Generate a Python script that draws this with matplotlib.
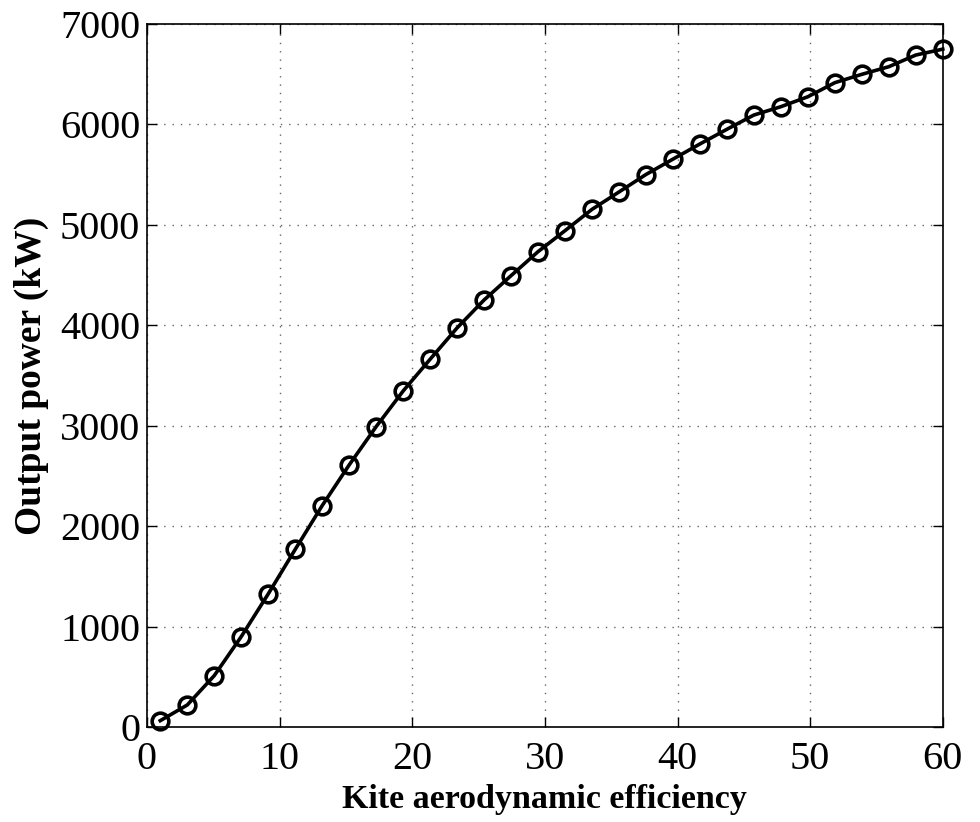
import numpy as np
import matplotlib
matplotlib.use("Agg")
import matplotlib.pyplot as plt

plt.rcParams['font.family'] = ['Liberation Serif', 'DejaVu Serif']

efficiency = np.linspace(1, 60, 30)
power_kw = [66, 222, 514, 902, 1327, 1770, 2206, 2611, 2992, 3347,
            3663, 3975, 4253, 4495, 4734, 4943, 5155, 5328, 5502, 5655,
            5806, 5952, 6094, 6177, 6276, 6416, 6499, 6575, 6691, 6750]
xticks = [0, 10, 20, 30, 40, 50, 60]
yticks = [0, 1000, 2000, 3000, 4000, 5000, 6000, 7000]

fig = plt.figure(figsize=(9.8, 8.22), dpi=100)
ax = fig.add_axes([0.15, 0.1152, 0.812, 0.8556])
ax.plot(efficiency, power_kw, color='black', linewidth=2.6,
        marker='o', markersize=12, markerfacecolor='none',
        markeredgewidth=2.6, markeredgecolor='black', clip_on=False, zorder=3)
ax.set_xlim(0, 60)
ax.set_ylim(0, 7000)
ax.set_xticks(xticks)
ax.set_yticks(yticks)
ax.tick_params(axis='both', direction='in', length=7, width=1, labelsize=29,
               top=True, right=True)
ax.tick_params(axis='y', pad=5)
ax.tick_params(axis='x', pad=10)
ax.grid(True, linestyle=(0, (1, 5)), color='#666666', linewidth=1)
for s in ax.spines.values():
    s.set_linewidth(1.2)
ax.set_xlabel('Kite aerodynamic efficiency', fontsize=24.5, fontweight='bold', labelpad=4)
ax.set_ylabel('Output power (kW)', fontsize=27, fontweight='bold', labelpad=8)
fig.savefig('out.png', dpi=100)
